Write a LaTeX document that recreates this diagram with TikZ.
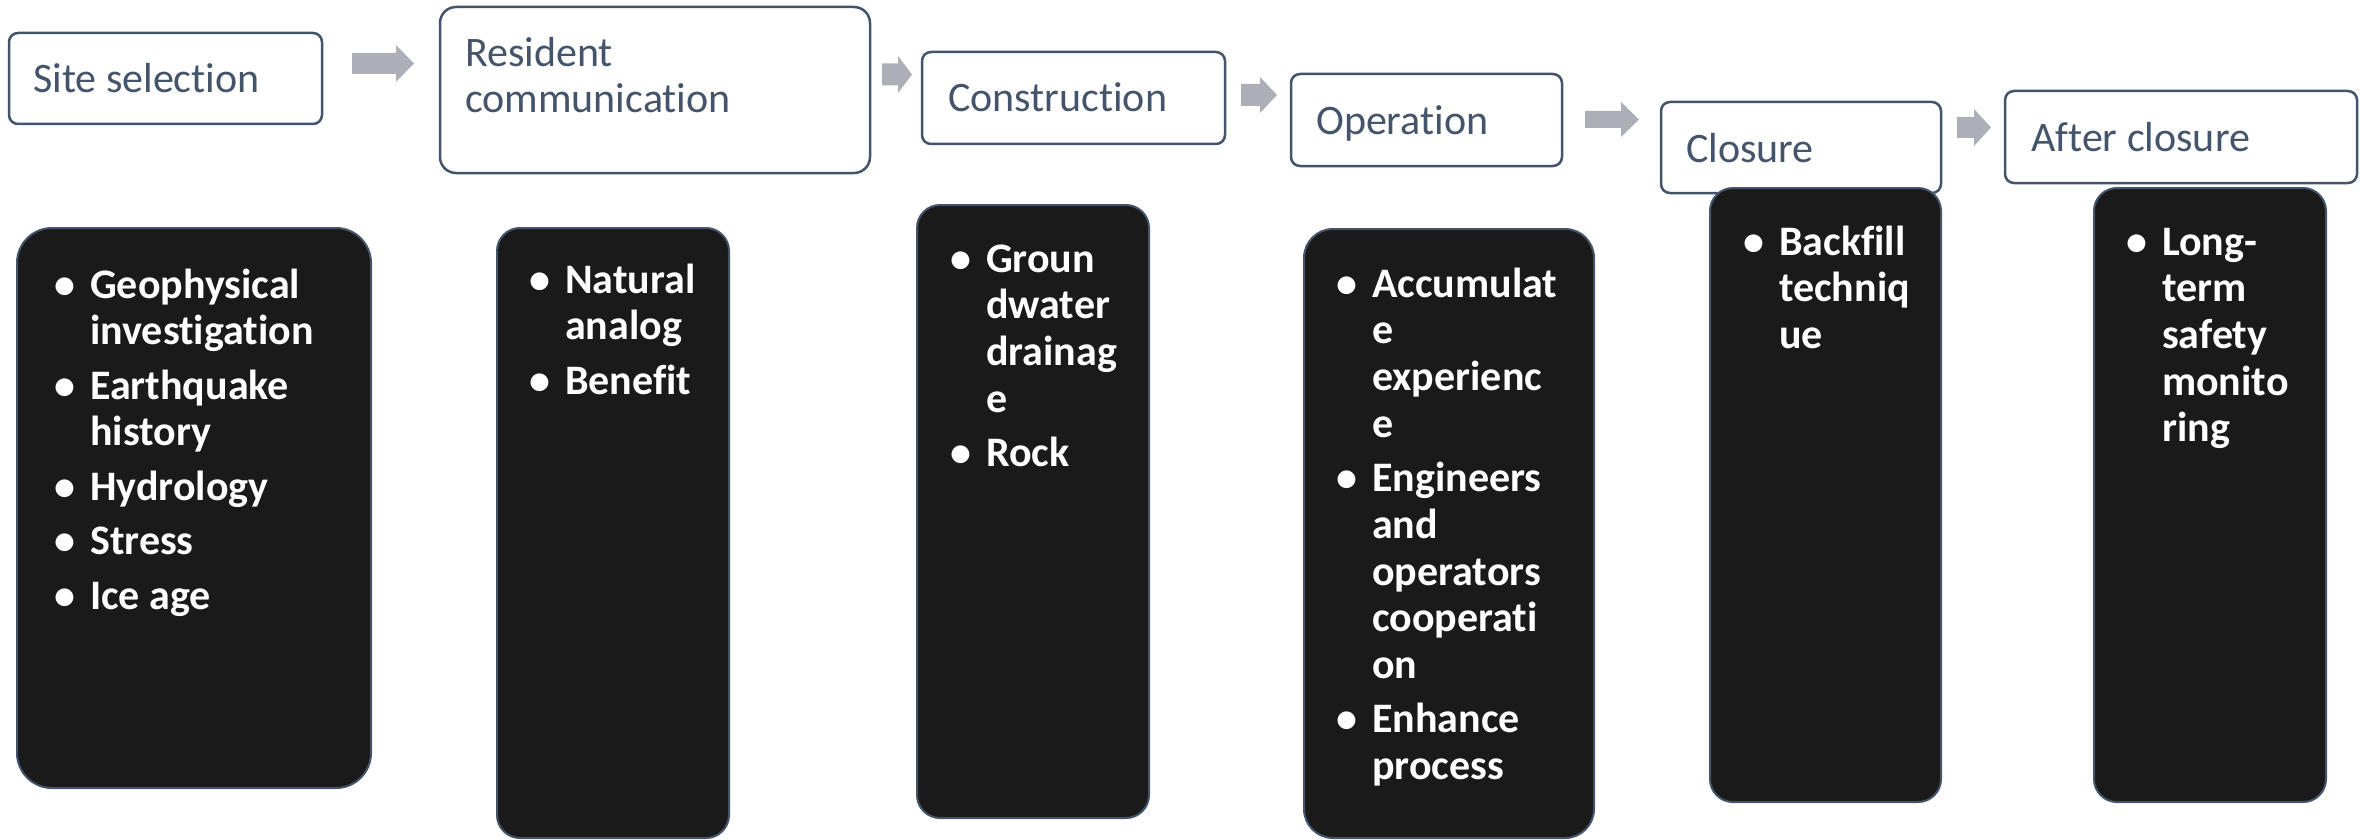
\documentclass[tikz,border=0pt]{standalone}
\usepackage{fontspec}
\setmainfont{Carlito}[RawFeature={-liga;-clig;-calt;-dlig}]
\definecolor{txtblue}{HTML}{44546A}
\definecolor{boxfill}{HTML}{1A1A1A}
\definecolor{agray}{HTML}{ADAFB6}
\tikzset{
 topbox/.style={draw=txtblue, line width=2.5pt, fill=white, rounded corners=9pt, inner sep=0pt, outer sep=0pt, anchor=north west},
 blackbox/.style={draw=txtblue, line width=2pt, fill=boxfill, inner sep=0pt, outer sep=0pt, anchor=north west},
 toptext/.style={font=\fontsize{42}{46}\selectfont, text=txtblue, inner sep=0pt, anchor=base west},
 btext/.style={font=\fontsize{42}{46.7}\selectfont\bfseries, text=white, inner sep=0pt, anchor=base west},
 arr/.style={fill=agray}
}
\newcommand\blist[1]{\parbox[t]{300pt}{\raggedright\setlength\parskip{7.8pt}\setlength\parindent{0pt}#1}}
\newcommand\bitem{\par\leavevmode\llap{\textbullet\hspace{15pt}}}
\newcommand\tiX{t\kern0pt i}
\newcommand\garrow[7][]{\fill[arr,#1] ({#2},{#5-#7}) -- ({#3},{#5-#7}) -- ({#3},{#5-#6}) -- ({#4},{#5}) -- ({#3},{#5+#6}) -- ({#3},{#5+#7}) -- ({#2},{#5+#7}) -- cycle;}
\begin{document}
\begin{tikzpicture}[x=1pt,y=-1pt]
\useasboundingbox (0,0) rectangle (2361,840);
% top boxes
\node[topbox, minimum width=313pt, minimum height=91pt] (site) at (9,33) {};
\node[topbox, minimum width=430pt, minimum height=166pt, rounded corners=16pt] (res) at (440,7) {};
\node[topbox, minimum width=303pt, minimum height=92pt] (con) at (922,52) {};
\node[topbox, minimum width=271pt, minimum height=92pt] (op) at (1291,74) {};
\node[topbox, minimum width=280pt, minimum height=91pt] (clo) at (1661,102) {};
\node[topbox, minimum width=352pt, minimum height=92pt] (aft) at (2005,91) {};
% top texts
\node[toptext] (sitet) at (33,93) {Site selection};
\node[toptext] (rest) at (465,67) {\parbox[t]{400pt}{Resident\\communica\tiX on}};
\node[toptext] (cont) at (948,112) {Construc\tiX on};
\node[toptext] (opt) at (1316,135) {Operation};
\node[toptext] (clot) at (1686,162) {Closure};
\node[toptext] (aftt) at (2031,152) {After closure};
% arrows
\garrow{352}{396}{414}{63.5}{18.5}{10.5}
\garrow{882}{898}{912}{74.5}{18.5}{11}
\garrow{1241}{1260}{1277}{95}{18}{11}
\garrow{1585}{1621}{1639}{119.5}{17.5}{8.5}
\garrow{1957}{1974}{1991}{127.5}{18.5}{10.5}
% black boxes
\node[blackbox, minimum width=354pt, minimum height=560pt, rounded corners=35pt] (siteb) at (17,228) {};
\node[blackbox, minimum width=232pt, minimum height=610pt, rounded corners=23pt] (resb) at (497,228) {};
\node[blackbox, minimum width=232pt, minimum height=613pt, rounded corners=23pt] (conb) at (917,205) {};
\node[blackbox, minimum width=290pt, minimum height=609pt, rounded corners=29pt] (opb) at (1304,229) {};
\node[blackbox, minimum width=231pt, minimum height=614pt, rounded corners=23pt] (clob) at (1710,188) {};
\node[blackbox, minimum width=232pt, minimum height=614pt, rounded corners=23pt] (aftb) at (2094,188) {};
% black texts
\node[btext] (sitel) at (90,298) {\blist{\bitem Geophysical\\investiga\tiX on \bitem Earthquake\\history \bitem Hydrology \bitem Stress \bitem Ice age}};
\node[btext] (resl) at (565,293) {\blist{\bitem Natural\\analog \bitem Benefit}};
\node[btext] (conl) at (986,272) {\blist{\bitem Groun\\dwater\\drainag\\e \bitem Rock}};
\node[btext] (opl) at (1372,297) {\blist{\bitem Accumulat\\e\\experienc\\e \bitem Engineers\\and\\operators\\coopera\tiX\\on \bitem Enhance\\process}};
\node[btext] (clol) at (1779,255) {\blist{\bitem Backfill\\techniq\\ue}};
\node[btext] (aftl) at (2162,255) {\blist{\bitem Long-\\term\\safety\\monito\\ring}};
\end{tikzpicture}
\end{document}
